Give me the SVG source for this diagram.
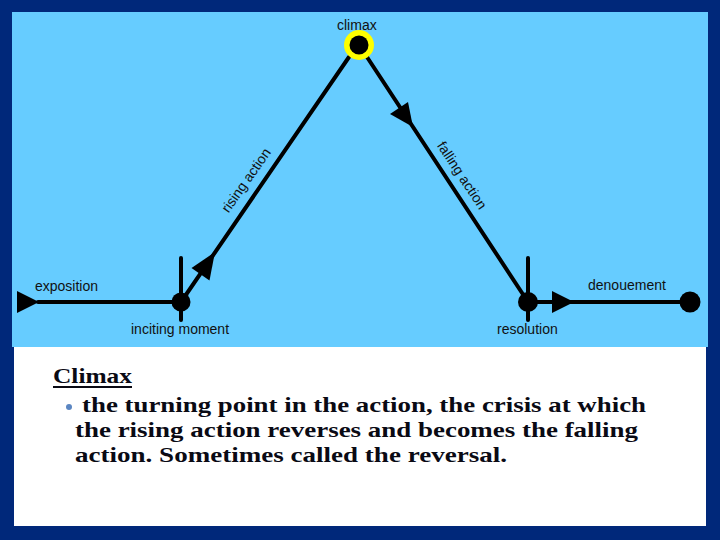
<svg xmlns="http://www.w3.org/2000/svg" width="720" height="540" viewBox="0 0 720 540">
<style>
.lbl{font-family:"Liberation Sans",Arial,sans-serif;font-size:14px;fill:#111}
.ln{stroke:#000;stroke-width:4;fill:none;stroke-linecap:round}
.body{font-family:"Liberation Serif","Times New Roman",serif;font-weight:bold;font-size:22px;fill:#0a0a14}
</style>
<rect x="0" y="0" width="720" height="540" fill="#00287a"/>
<rect x="12" y="12" width="696" height="335" fill="#66ccff"/>
<rect x="14" y="347" width="692" height="179" fill="#ffffff"/>
<g id="connectors">
<line class="ln" x1="38" y1="302" x2="181" y2="302"/>
<polygon points="17,291 17,313 39,302" fill="#000"/>
<line class="ln" x1="181" y1="302" x2="349" y2="57"/>
<polygon points="215,252 209.5,280.5 191.5,268" fill="#000"/>
<line class="ln" x1="367" y1="57" x2="528" y2="302"/>
<polygon points="413,127 408,102 390,114" fill="#000"/>
<line class="ln" x1="528" y1="302" x2="690" y2="302"/>
<polygon points="552,291 552,313 574,302" fill="#000"/>
</g>
<g id="exposition"><text class="lbl" x="35" y="291">exposition</text></g>
<g id="inciting-moment">
<line class="ln" x1="181" y1="258" x2="181" y2="320" stroke-linecap="butt"/>
<circle cx="181" cy="302" r="9.5" fill="#000"/>
<text class="lbl" x="131" y="334">inciting moment</text>
</g>
<g id="climax">
<circle cx="359" cy="45" r="15" fill="#ffff00"/>
<circle cx="359" cy="45" r="9.5" fill="#000"/>
<text class="lbl" x="337" y="30">climax</text>
</g>
<g id="rising-action"><text class="lbl" x="250" y="183" text-anchor="middle" transform="rotate(-55 250 183)">rising action</text></g>
<g id="falling-action"><text class="lbl" x="458" y="178" text-anchor="middle" transform="rotate(56.5 458 178)">falling action</text></g>
<g id="resolution">
<line class="ln" x1="528" y1="258" x2="528" y2="320" stroke-linecap="butt"/>
<circle cx="528" cy="302" r="10" fill="#000"/>
<text class="lbl" x="497" y="334">resolution</text>
</g>
<g id="denouement">
<circle cx="690" cy="302" r="10.5" fill="#000"/>
<text class="lbl" x="588" y="290">denouement</text>
</g>
<g id="description">
<text class="body" x="53" y="383" font-size="23" textLength="79" lengthAdjust="spacingAndGlyphs">Climax</text>
<line x1="53" y1="387" x2="132" y2="387" stroke="#0a0a14" stroke-width="2"/>
<circle cx="69" cy="407" r="3" fill="#5b86c2"/>
<text class="body" x="82" y="412" textLength="564" lengthAdjust="spacingAndGlyphs">the turning point in the action, the crisis at which</text>
<text class="body" x="75" y="437" textLength="563" lengthAdjust="spacingAndGlyphs">the rising action reverses and becomes the falling</text>
<text class="body" x="75" y="462" textLength="432" lengthAdjust="spacingAndGlyphs">action. Sometimes called the reversal.</text>
</g>
</svg>
